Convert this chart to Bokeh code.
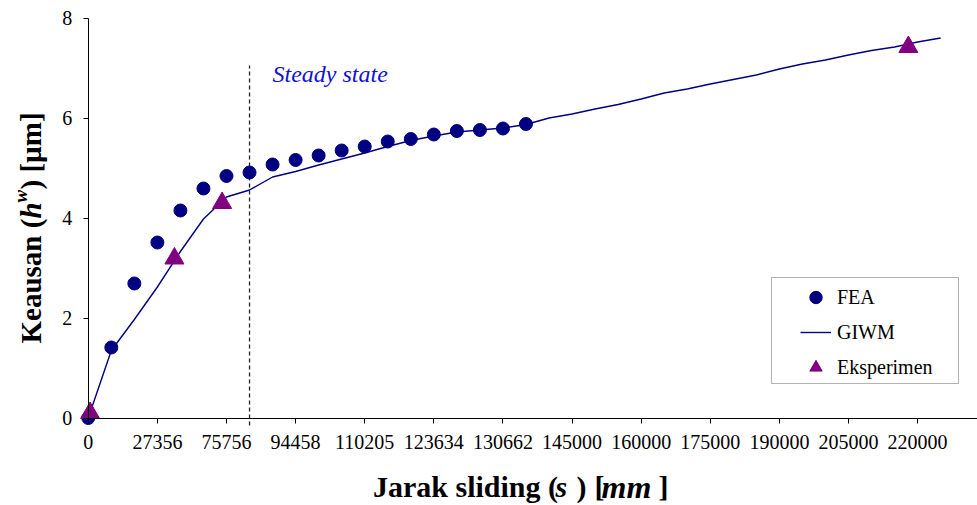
import math
from bokeh.plotting import figure
from bokeh.models import Range1d, FixedTicker, Legend, LegendItem, Label, BoxAnnotation
from bokeh.embed import file_html
from bokeh.resources import INLINE

# ---------------- data (category positions along the x axis) ----------------
tick_pos = [0, 3, 6, 9, 12, 15, 18, 21, 24, 27, 30, 33, 36]
tick_labels = ["0", "27356", "75756", "94458", "110205", "123634", "130662",
               "145000", "160000", "175000", "190000", "205000", "220000"]

fea_pos = [0, 1, 2, 3, 4, 5, 6, 7, 8, 9, 10, 11, 12, 13, 14, 15, 16, 17, 18, 19]
fea_val = [0.0, 1.41, 2.69, 3.51, 4.15, 4.59, 4.84, 4.91, 5.07, 5.16,
           5.25, 5.35, 5.43, 5.53, 5.58, 5.67, 5.74, 5.76, 5.79, 5.88]

giwm_pos = [0, 1, 2, 3, 4, 5, 6, 7, 8, 9, 10, 11, 12, 13, 14, 15, 16, 17, 18,
            19, 20, 21, 22, 23, 24, 25, 26, 27, 28, 29, 30, 31, 32, 33, 34, 35, 36, 37]
giwm_val = [0.0, 1.35, 1.97, 2.62, 3.33, 3.98, 4.42, 4.56, 4.82, 4.93,
            5.06, 5.18, 5.30, 5.43, 5.55, 5.64, 5.72, 5.76, 5.80, 5.87,
            6.00, 6.08, 6.18, 6.27, 6.38, 6.50, 6.58, 6.68, 6.77, 6.86,
            6.98, 7.08, 7.16, 7.26, 7.35, 7.42, 7.52, 7.60]

eks_pos = [0.08, 3.74, 5.81, 35.6]
eks_val = [0.10, 3.19, 4.30, 7.42]

steady_pos = 7
steady_top = 7.05

# ---------------- layout ----------------
W, H = 977, 505
X0, X1 = -3.81, 38.6
Y0, Y1 = -1.75, 8.35


def px2x(px):
    return X0 + px * (X1 - X0) / W


def px2y(py):
    return Y0 + (H - py) * (Y1 - Y0) / H


SERIF = "Liberation Serif"

p = figure(width=W, height=H, x_range=Range1d(X0, X1), y_range=Range1d(Y0, Y1),
           output_backend="svg", toolbar_location=None,
           min_border_left=0, min_border_right=0,
           min_border_top=0, min_border_bottom=0)
p.background_fill_color = "white"
p.border_fill_color = "white"
p.outline_line_color = None
p.grid.visible = False

for ax in (p.xaxis, p.yaxis):
    ax.fixed_location = 0
    ax.axis_line_color = "black"
    ax.axis_line_width = 1
    ax.major_tick_line_color = "black"
    ax.major_tick_in = 0
    ax.major_tick_out = 5
    ax.minor_tick_line_color = None
    ax.major_label_text_font = SERIF
    ax.major_label_text_font_size = "20px"
    ax.major_label_text_color = "black"

p.xaxis.bounds = (0, X1)
p.yaxis.bounds = (0, 8)
p.xaxis.ticker = FixedTicker(ticks=tick_pos)
p.xaxis.major_label_overrides = {t: l for t, l in zip(tick_pos, tick_labels)}
p.yaxis.ticker = FixedTicker(ticks=[0, 2, 4, 6, 8])
p.xaxis.major_label_standoff = 12
p.yaxis.major_label_standoff = 11

# steady-state marker line
p.segment(x0=[steady_pos], y0=[-0.15], x1=[steady_pos], y1=[steady_top],
          line_color="#222222", line_width=1.3, line_dash="4 3")

giwm_r = p.line(giwm_pos, giwm_val, line_color="#000080", line_width=1.4)
fea_r = p.scatter(fea_pos, fea_val, marker="circle", size=13,
                  fill_color="#000080", line_color="#000080")
eks_r = p.scatter(eks_pos, eks_val, marker="triangle", size=19,
                  fill_color="#800080", line_color="#800080")

# "Steady state" annotation
p.add_layout(Label(x=px2x(272), y=px2y(73), text="Steady state",
                   text_font=SERIF, text_font_style="italic",
                   text_font_size="24px", text_color="#1010D8",
                   text_align="left", text_baseline="alphabetic"))

# legend
legend = Legend(items=[LegendItem(label="FEA", renderers=[fea_r]),
                       LegendItem(label="GIWM", renderers=[giwm_r]),
                       LegendItem(label="Eksperimen", renderers=[eks_r])],
                location=(800, H - 383),
                padding=0, margin=0, spacing=3,
                glyph_width=31, glyph_height=32, label_height=20,
                label_standoff=6,
                label_text_font=SERIF, label_text_font_size="20px",
                label_text_color="black",
                border_line_color=None, background_fill_alpha=0.0)
p.add_layout(legend)
p.add_layout(BoxAnnotation(left=px2x(771), right=px2x(958), top=px2y(277), bottom=px2y(383),
                           fill_color=None, fill_alpha=0, line_color="black", line_width=1))

# x axis title: Jarak sliding (s ) [mm ]
xl_base = px2y(486)
for txt, px, style, size in [("Jarak sliding (", 372.5, "bold", "30px"),
                             ("s", 555, "bold italic", "30px"),
                             (")", 576, "bold", "30px"), ("[", 594, "bold", "30px"),
                             ("mm", 601, "bold italic", "32px"), ("]", 658, "bold", "30px")]:
    p.add_layout(Label(x=px2x(px), y=xl_base, text=txt, text_font=SERIF,
                       text_font_style=style, text_font_size=size, text_color="black",
                       text_align="left", text_baseline="alphabetic"))

# y axis title: Keausan (h^w ) [µm]  (rotated)
yb = 30
for txt, py, style, size, dx in [("Keausan (", 343, "bold", "29px", 0),
                                 ("h", 218, "bold italic", "29px", 0),
                                 ("w", 202, "bold italic", "19px", -10),
                                 (" ) [µm]", 189, "bold", "29px", 0)]:
    p.add_layout(Label(x=px2x(yb + dx), y=px2y(py), text=txt, angle=math.pi / 2,
                       text_font=SERIF, text_font_style=style, text_font_size=size,
                       text_color="black", text_align="left", text_baseline="alphabetic"))

open("out.html", "w").write(file_html(p, INLINE))
